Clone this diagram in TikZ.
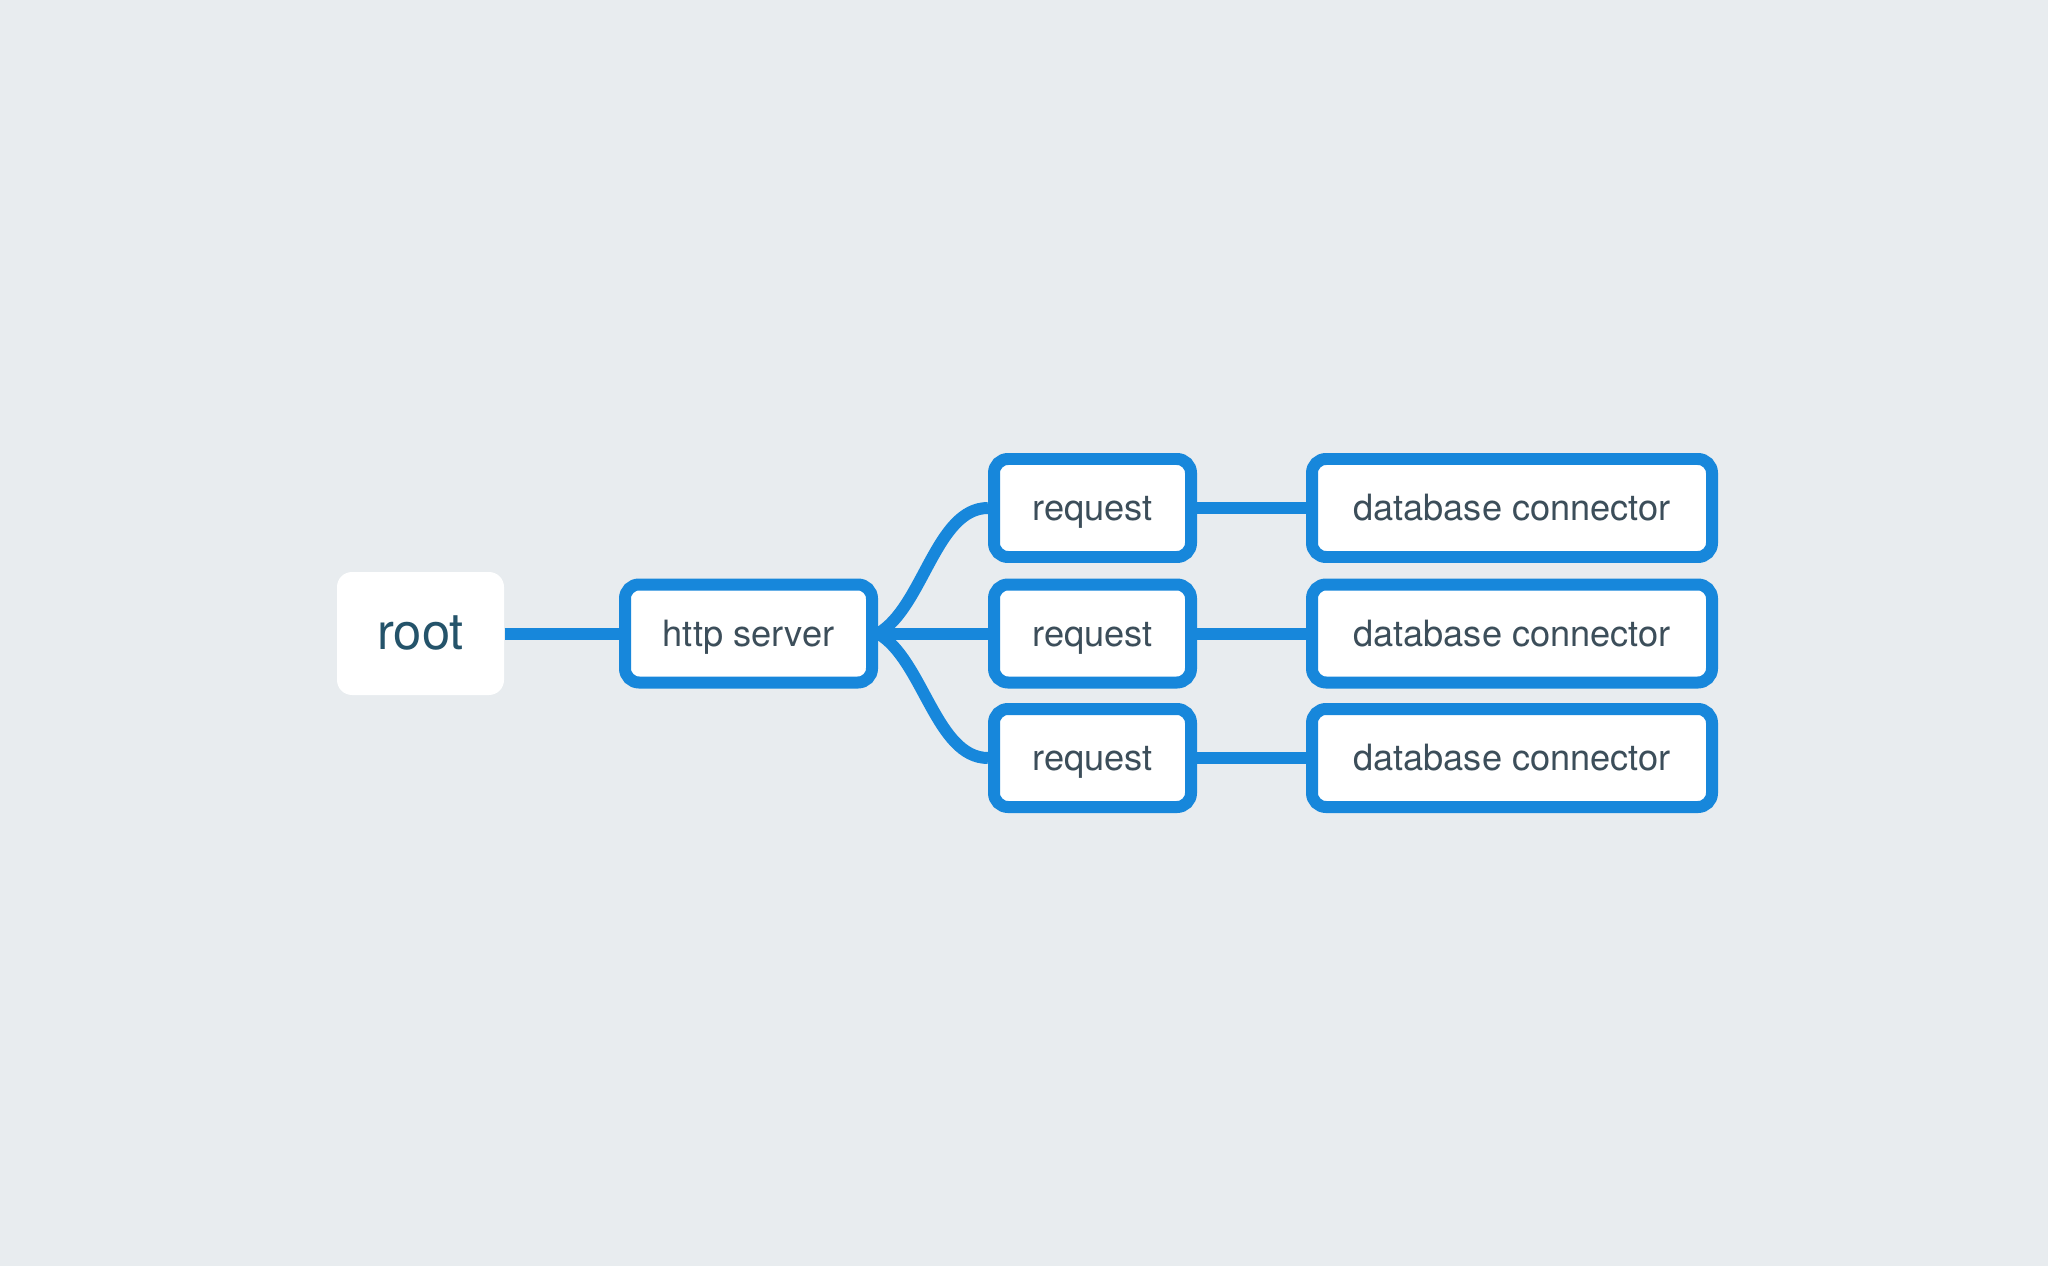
\documentclass[tikz,border=0pt]{standalone}
\usepackage{fontspec}
\setmainfont{TeX Gyre Heros}
\usepackage{xcolor,tikz}
\usetikzlibrary{positioning}
\definecolor{canvas}{HTML}{E8ECEF}
\definecolor{wire}{HTML}{1787DB}
\definecolor{label}{HTML}{3C4E5A}
\definecolor{rootlabel}{HTML}{24536A}

\begin{document}
\begin{tikzpicture}[font=\fontsize{10.3}{12}\selectfont,
  box/.style={draw=wire,line width=0.12cm,fill=white,rounded corners=0.14cm,
    minimum height=0.98cm,inner sep=0pt,text=label,text height=1.8ex,text depth=0.42ex},
  link/.style={wire,line width=0.12cm}]
\fill[canvas] (0,0) rectangle (20.48,12.66);
\node[fill=white,rounded corners=0.15cm,minimum width=1.67cm,minimum height=1.23cm,
  inner sep=0pt,text height=2.05ex,text depth=0.3ex,
  text=rootlabel,font=\fontsize{14.4}{17}\selectfont] (root) at (4.205,6.325) {root};
\node[box,minimum width=2.47cm] (http) at (7.485,6.325) {http server};
\node[box,minimum width=1.97cm] (req1) at (10.925,7.58) {request};
\node[box,minimum width=1.97cm] (req2) at (10.925,6.325) {request};
\node[box,minimum width=1.97cm] (req3) at (10.925,5.08) {request};
\node[box,minimum width=4.0cm] (db1) at (15.12,7.58) {database connector};
\node[box,minimum width=4.0cm] (db2) at (15.12,6.325) {database connector};
\node[box,minimum width=4.0cm] (db3) at (15.12,5.08) {database connector};
\draw[link] (root.east) -- (http.west);
\draw[link] (http.east) to[out=30,in=180,looseness=0.8] (req1.west);
\draw[link] (http.east) -- (req2.west);
\draw[link] (http.east) to[out=-30,in=180,looseness=0.8] (req3.west);
\draw[link] (req1.east) -- (db1.west);
\draw[link] (req2.east) -- (db2.west);
\draw[link] (req3.east) -- (db3.west);
\end{tikzpicture}
\end{document}
